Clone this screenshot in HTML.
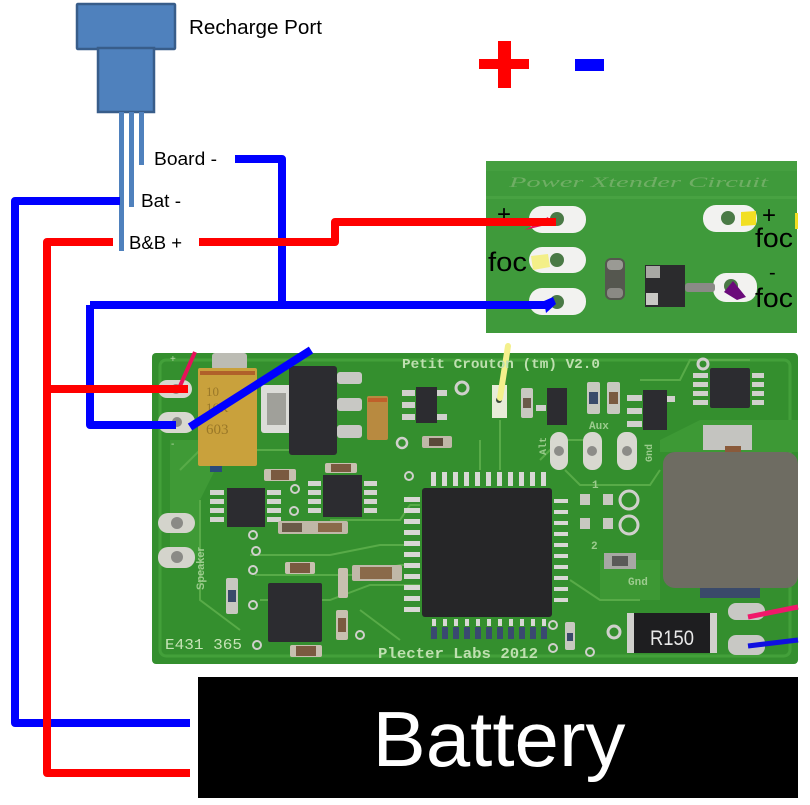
<!DOCTYPE html>
<html><head><meta charset="utf-8"><style>
html,body{margin:0;padding:0;background:#fff;}
svg{display:block;}
</style></head><body>
<svg width="810" height="805" viewBox="0 0 810 805" xmlns="http://www.w3.org/2000/svg">
<rect width="810" height="805" fill="#fff"/>

<!-- Recharge port -->
<rect x="77" y="4" width="98" height="45" fill="#4F81BD" stroke="#385D8A" stroke-width="2.5" rx="1"/>
<rect x="98" y="48" width="56" height="64" fill="#4F81BD" stroke="#385D8A" stroke-width="2.5"/>
<rect x="119" y="112" width="5" height="139" fill="#4F81BD"/>
<rect x="129" y="112" width="5" height="95" fill="#4F81BD"/>
<rect x="139" y="112" width="5" height="53" fill="#4F81BD"/>
<text x="189" y="34" font-family="Liberation Sans, sans-serif" font-size="20" textLength="133" lengthAdjust="spacingAndGlyphs">Recharge Port</text>
<text x="154" y="165" font-family="Liberation Sans, sans-serif" font-size="18" textLength="63" lengthAdjust="spacingAndGlyphs">Board -</text>
<text x="141" y="207" font-family="Liberation Sans, sans-serif" font-size="18" textLength="40" lengthAdjust="spacingAndGlyphs">Bat -</text>
<text x="129" y="249" font-family="Liberation Sans, sans-serif" font-size="18" textLength="53" lengthAdjust="spacingAndGlyphs">B&amp;B +</text>

<!-- plus / minus legend -->
<rect x="498" y="41" width="13" height="47" fill="#f00"/>
<rect x="479" y="59" width="50" height="10" fill="#f00"/>
<rect x="575" y="59" width="29" height="12" fill="#00f"/>

<!-- Power Xtender PCB -->
<rect x="486" y="161" width="311" height="172" fill="#3f9a3b"/>
<rect x="486" y="161" width="311" height="10" fill="#4aa444" opacity="0.6"/>
<rect x="486" y="196" width="311" height="3" fill="#52aa4a" opacity="0.5"/>
<text x="509" y="187" font-family="Liberation Serif, serif" font-size="15" font-style="italic" fill="#6fae64" textLength="259" lengthAdjust="spacingAndGlyphs">Power Xtender Circuit</text>
<rect x="529" y="206" width="57" height="27" rx="13" fill="#f2f2f0"/>
<circle cx="557" cy="219" r="7" fill="#4a7a46"/>
<rect x="529" y="247" width="57" height="26" rx="13" fill="#f2f2f0"/>
<circle cx="557" cy="260" r="7" fill="#4a7a46"/>
<rect x="529" y="288" width="57" height="27" rx="13" fill="#f2f2f0"/>
<circle cx="557" cy="302" r="7" fill="#4a7a46"/>
<rect x="703" y="205" width="54" height="27" rx="13" fill="#f2f2f0"/>
<circle cx="728" cy="218" r="7" fill="#4a7a46"/>
<rect x="713" y="273" width="44" height="29" rx="13" fill="#f2f2f0"/>
<circle cx="731" cy="286" r="7" fill="#4a7a46"/>
<!-- xtender components -->
<rect x="605" y="258" width="20" height="42" rx="6" fill="#55574f"/>
<rect x="607" y="260" width="16" height="10" rx="4" fill="#9a9a94"/>
<rect x="607" y="288" width="16" height="10" rx="4" fill="#8a8a84"/>
<rect x="645" y="265" width="40" height="42" fill="#2b2b2d"/>
<rect x="646" y="266" width="14" height="12" fill="#a8a8a4"/>
<rect x="646" y="293" width="12" height="12" fill="#c8c8c4"/>
<rect x="685" y="283" width="30" height="9" rx="3" fill="#8a8a86"/>
<!-- markers -->
<polygon points="531,256 548,254 550,267 533,270" fill="#f3ef88"/>
<polygon points="741,212 756,211 756,225 741,226" fill="#f2df22"/>
<rect x="795" y="213" width="3" height="16" fill="#f2df22"/>
<polygon points="724,292 733,281 746,297 737,300" fill="#6a0a7a"/>
<polygon points="525,230 548,217 550,224" fill="#e8105a"/>
<text x="497" y="222" font-family="Liberation Sans, sans-serif" font-size="24">+</text>
<text x="488" y="271" font-family="Liberation Sans, sans-serif" font-size="27" textLength="39" lengthAdjust="spacingAndGlyphs">foc</text>
<text x="762" y="223" font-family="Liberation Sans, sans-serif" font-size="24">+</text>
<text x="755" y="247" font-family="Liberation Sans, sans-serif" font-size="27" textLength="38" lengthAdjust="spacingAndGlyphs">foc</text>
<text x="769" y="279" font-family="Liberation Sans, sans-serif" font-size="20">-</text>
<text x="755" y="307" font-family="Liberation Sans, sans-serif" font-size="27" textLength="38" lengthAdjust="spacingAndGlyphs">foc</text>

<!-- Main PCB -->
<rect x="152" y="353" width="646" height="311" rx="4" fill="#348f2e"/>
<rect x="160" y="360" width="630" height="296" rx="6" fill="none" stroke="#43a03a" stroke-width="3"/>
<polygon points="170,440 215,440 215,470 200,500 200,560 170,560" fill="#3f9a36"/>
<polygon points="660,440 700,420 798,420 798,452 660,452" fill="#3d9935"/>
<polygon points="600,560 660,560 660,600 600,600" fill="#3d9834"/>
<g fill="none" stroke="#58ab48" stroke-width="2">
<polyline points="180,470 200,450 290,450"/>
<polyline points="200,500 200,600 240,630"/>
<polyline points="250,555 330,555 380,545 420,545"/>
<polyline points="255,575 360,575 400,565 420,565"/>
<polyline points="260,600 330,600 370,585 420,585"/>
<polyline points="330,520 400,520 410,505 420,505"/>
<polyline points="360,610 380,625 400,640"/>
<polyline points="565,470 580,485 650,485 660,470"/>
<polyline points="570,580 600,600 640,600"/>
<polyline points="480,440 480,470"/>
<polyline points="500,420 500,470"/>
<polyline points="640,380 680,380 690,360 750,360"/>
<polyline points="590,440 560,440 540,460"/>
</g>

<!-- top-left pads -->
<rect x="158" y="380" width="34" height="18" rx="9" fill="#d8d8d0"/>
<circle cx="176" cy="389" r="5" fill="#8c8c88"/>
<rect x="158" y="412" width="37" height="21" rx="10" fill="#d8d8d0"/>
<circle cx="177" cy="422" r="5" fill="#8c8c88"/>
<text x="170" y="362" font-family="Liberation Sans, sans-serif" font-size="10" fill="#b8d8a8">+</text>
<text x="171" y="447" font-family="Liberation Sans, sans-serif" font-size="10" fill="#b8d8a8">-</text>
<rect x="158" y="513" width="37" height="20" rx="10" fill="#d4d4cc"/>
<circle cx="177" cy="523" r="6" fill="#8a8a86"/>
<rect x="158" y="547" width="37" height="21" rx="10" fill="#d4d4cc"/>
<circle cx="177" cy="557" r="6" fill="#8a8a86"/>
<text x="0" y="0" transform="translate(204,590) rotate(-90)" font-family="Liberation Sans, sans-serif" font-size="11" font-weight="bold" fill="#9ccc8e">Speaker</text>

<!-- tantalum -->
<rect x="212" y="353" width="35" height="17" rx="3" fill="#bcbcb4"/>
<rect x="198" y="368" width="59" height="98" rx="2" fill="#c9a13c"/>
<rect x="200" y="371" width="55" height="4" fill="#b0602a"/>
<text x="206" y="396" font-family="Liberation Serif, serif" font-size="13" fill="#9a7828">10</text>
<text x="206" y="412" font-family="Liberation Serif, serif" font-size="13" fill="#9a7828">16K</text>
<text x="206" y="434" font-family="Liberation Serif, serif" font-size="15" fill="#9a7828">603</text>
<rect x="210" y="466" width="12" height="6" fill="#2a4a7a"/>
<rect x="261" y="385" width="31" height="48" rx="3" fill="#dcdcd8"/>
<rect x="267" y="393" width="19" height="32" fill="#a0a09a"/>
<rect x="289" y="366" width="48" height="89" rx="3" fill="#2c2c30"/>
<rect x="337" y="372" width="25" height="12" rx="3" fill="#c8c8c4"/>
<rect x="337" y="398" width="25" height="13" rx="3" fill="#c8c8c4"/>
<rect x="337" y="425" width="25" height="13" rx="3" fill="#c8c8c4"/>
<rect x="367" y="396" width="21" height="44" rx="2" fill="#b88a40"/>
<rect x="368" y="398" width="19" height="4" fill="#c0602a"/>
<rect x="416" y="387" width="21" height="36" fill="#2c2c30"/>
<rect x="402" y="390" width="13" height="6" fill="#d0d0cc"/>
<rect x="402" y="402" width="13" height="6" fill="#d0d0cc"/>
<rect x="402" y="414" width="13" height="6" fill="#d0d0cc"/>
<rect x="437" y="390" width="10" height="6" fill="#d0d0cc"/>
<rect x="437" y="414" width="10" height="6" fill="#d0d0cc"/>
<circle cx="462" cy="388" r="6" fill="none" stroke="#d0d0cc" stroke-width="3"/>
<rect x="422" y="436" width="30" height="12" rx="2" fill="#c0b8a8"/>
<rect x="429" y="438" width="14" height="8" fill="#5a4a3a"/>
<circle cx="402" cy="443" r="5" fill="none" stroke="#d0d0cc" stroke-width="2.5"/>
<circle cx="409" cy="476" r="4" fill="none" stroke="#d0d0cc" stroke-width="2"/>
<rect x="227" y="488" width="38" height="39" fill="#2c2c30"/>
<g fill="#d4d4d0">
<rect x="210" y="490" width="14" height="5"/><rect x="210" y="499" width="14" height="5"/><rect x="210" y="508" width="14" height="5"/><rect x="210" y="517" width="14" height="5"/>
<rect x="267" y="490" width="14" height="5"/><rect x="267" y="499" width="14" height="5"/><rect x="267" y="508" width="14" height="5"/><rect x="267" y="517" width="14" height="5"/>
</g>
<rect x="264" y="469" width="32" height="12" rx="2" fill="#c8c0b0"/><rect x="271" y="470" width="18" height="10" fill="#7a5a40"/>
<rect x="323" y="475" width="39" height="42" fill="#2c2c30"/>
<g fill="#d4d4d0">
<rect x="308" y="481" width="13" height="5"/><rect x="308" y="490" width="13" height="5"/><rect x="308" y="499" width="13" height="5"/><rect x="308" y="508" width="13" height="5"/>
<rect x="364" y="481" width="13" height="5"/><rect x="364" y="490" width="13" height="5"/><rect x="364" y="499" width="13" height="5"/><rect x="364" y="508" width="13" height="5"/>
</g>
<rect x="325" y="463" width="32" height="10" rx="2" fill="#c8c0b0"/><rect x="331" y="464" width="20" height="8" fill="#7a5a40"/>
<circle cx="295" cy="489" r="4" fill="none" stroke="#d0d0cc" stroke-width="2"/>
<circle cx="294" cy="511" r="4" fill="none" stroke="#d0d0cc" stroke-width="2"/>
<rect x="278" y="521" width="70" height="13" rx="2" fill="#c0b8a8"/>
<rect x="282" y="523" width="20" height="9" fill="#6a5a48"/><rect x="318" y="523" width="24" height="9" fill="#8a6a4a"/>
<circle cx="253" cy="535" r="4" fill="none" stroke="#d0d0cc" stroke-width="2"/>
<circle cx="256" cy="551" r="4" fill="none" stroke="#d0d0cc" stroke-width="2"/>
<circle cx="253" cy="570" r="4" fill="none" stroke="#d0d0cc" stroke-width="2"/>
<rect x="268" y="583" width="54" height="59" rx="2" fill="#2c2c30"/>
<rect x="285" y="562" width="30" height="12" rx="2" fill="#c8c0b0"/><rect x="290" y="563" width="20" height="10" fill="#7a5a40"/>
<rect x="290" y="645" width="32" height="12" rx="2" fill="#c8c0b0"/><rect x="296" y="646" width="20" height="10" fill="#7a5a40"/>
<rect x="226" y="578" width="12" height="36" rx="2" fill="#c8c8c0"/><rect x="228" y="590" width="8" height="12" fill="#3a4a6a"/>
<circle cx="253" cy="605" r="4" fill="none" stroke="#d0d0cc" stroke-width="2"/>
<circle cx="257" cy="645" r="4" fill="none" stroke="#d0d0cc" stroke-width="2"/>
<rect x="338" y="568" width="10" height="30" rx="2" fill="#c8c0b0"/>
<rect x="336" y="610" width="12" height="30" rx="2" fill="#c8c0b0"/><rect x="338" y="618" width="8" height="14" fill="#7a5a40"/>
<rect x="352" y="565" width="50" height="16" rx="2" fill="#c0b8a8"/><rect x="360" y="567" width="32" height="12" fill="#8a6a4a"/>
<circle cx="360" cy="635" r="4" fill="none" stroke="#d0d0cc" stroke-width="2"/>

<!-- QFP -->
<rect x="422" y="488" width="130" height="129" rx="3" fill="#262628"/>
<g fill="#d8d8d4">
<rect x="431" y="472" width="5" height="14"/><rect x="442" y="472" width="5" height="14"/><rect x="453" y="472" width="5" height="14"/><rect x="464" y="472" width="5" height="14"/><rect x="475" y="472" width="5" height="14"/><rect x="486" y="472" width="5" height="14"/><rect x="497" y="472" width="5" height="14"/><rect x="508" y="472" width="5" height="14"/><rect x="519" y="472" width="5" height="14"/><rect x="530" y="472" width="5" height="14"/><rect x="541" y="472" width="5" height="14"/>
<rect x="404" y="497" width="16" height="5"/><rect x="404" y="508" width="16" height="5"/><rect x="404" y="519" width="16" height="5"/><rect x="404" y="530" width="16" height="5"/><rect x="404" y="541" width="16" height="5"/><rect x="404" y="552" width="16" height="5"/><rect x="404" y="563" width="16" height="5"/><rect x="404" y="574" width="16" height="5"/><rect x="404" y="585" width="16" height="5"/><rect x="404" y="596" width="16" height="5"/><rect x="404" y="607" width="16" height="5"/>
<rect x="554" y="499" width="14" height="4"/><rect x="554" y="510" width="14" height="4"/><rect x="554" y="521" width="14" height="4"/><rect x="554" y="532" width="14" height="4"/><rect x="554" y="543" width="14" height="4"/><rect x="554" y="554" width="14" height="4"/><rect x="554" y="565" width="14" height="4"/><rect x="554" y="576" width="14" height="4"/><rect x="554" y="587" width="14" height="4"/><rect x="554" y="598" width="14" height="4"/>
<rect x="432" y="619" width="4" height="7"/><rect x="443" y="619" width="4" height="7"/><rect x="454" y="619" width="4" height="7"/><rect x="465" y="619" width="4" height="7"/><rect x="476" y="619" width="4" height="7"/><rect x="487" y="619" width="4" height="7"/><rect x="498" y="619" width="4" height="7"/><rect x="509" y="619" width="4" height="7"/><rect x="520" y="619" width="4" height="7"/><rect x="531" y="619" width="4" height="7"/><rect x="542" y="619" width="4" height="7"/>
</g>
<g fill="#3a4a70">
<rect x="431" y="627" width="6" height="12"/><rect x="442" y="627" width="6" height="12"/><rect x="453" y="627" width="6" height="12"/><rect x="464" y="627" width="6" height="12"/><rect x="475" y="627" width="6" height="12"/><rect x="486" y="627" width="6" height="12"/><rect x="497" y="627" width="6" height="12"/><rect x="508" y="627" width="6" height="12"/><rect x="519" y="627" width="6" height="12"/><rect x="530" y="627" width="6" height="12"/><rect x="541" y="627" width="6" height="12"/>
</g>
<circle cx="553" cy="625" r="4" fill="none" stroke="#d0d0cc" stroke-width="2"/>
<circle cx="553" cy="648" r="4" fill="none" stroke="#d0d0cc" stroke-width="2"/>
<rect x="565" y="622" width="10" height="28" rx="2" fill="#c8c8c0"/><rect x="567" y="633" width="6" height="8" fill="#3a4a6a"/>
<circle cx="590" cy="652" r="4" fill="none" stroke="#d0d0cc" stroke-width="2"/>

<rect x="492" y="385" width="15" height="33" fill="#e8ecd8"/>
<circle cx="499" cy="400" r="3" fill="#3a4a3a"/>
<line x1="508" y1="346" x2="500" y2="398" stroke="#f4f08c" stroke-width="6" stroke-linecap="round"/>

<rect x="521" y="388" width="12" height="30" rx="2" fill="#c8c8c0"/><rect x="523" y="398" width="8" height="10" fill="#6a5a48"/>
<rect x="547" y="388" width="20" height="37" fill="#2c2c30"/>
<rect x="536" y="405" width="10" height="6" fill="#d0d0cc"/>
<rect x="587" y="382" width="13" height="32" rx="2" fill="#c8c8c0"/><rect x="589" y="392" width="9" height="12" fill="#3a4a6a"/>
<rect x="607" y="382" width="13" height="32" rx="2" fill="#c8c8c0"/><rect x="609" y="392" width="9" height="12" fill="#7a5a40"/>
<rect x="643" y="390" width="24" height="40" fill="#2c2c30"/>
<rect x="627" y="395" width="15" height="6" fill="#d0d0cc"/><rect x="627" y="408" width="15" height="6" fill="#d0d0cc"/><rect x="627" y="421" width="15" height="6" fill="#d0d0cc"/>
<rect x="667" y="396" width="8" height="6" fill="#d0d0cc"/>
<text x="589" y="429" font-family="Liberation Mono, monospace" font-size="11" font-weight="bold" fill="#9ccc8e">Aux</text>
<circle cx="703" cy="364" r="5" fill="none" stroke="#d0d0cc" stroke-width="3"/>
<rect x="710" y="368" width="40" height="40" rx="2" fill="#2c2c30"/>
<g fill="#d0d0cc">
<rect x="693" y="373" width="15" height="5"/><rect x="693" y="382" width="15" height="5"/><rect x="693" y="391" width="15" height="5"/><rect x="693" y="400" width="15" height="5"/>
<rect x="752" y="373" width="12" height="5"/><rect x="752" y="382" width="12" height="5"/><rect x="752" y="391" width="12" height="5"/><rect x="752" y="400" width="12" height="5"/>
</g>
<rect x="550" y="432" width="18" height="38" rx="9" fill="#d8d8d0"/><circle cx="559" cy="451" r="5" fill="#8c8c88"/>
<rect x="583" y="432" width="19" height="38" rx="9" fill="#d8d8d0"/><circle cx="592" cy="451" r="5" fill="#8c8c88"/>
<rect x="617" y="432" width="20" height="38" rx="9" fill="#d8d8d0"/><circle cx="627" cy="451" r="5" fill="#8c8c88"/>
<text x="0" y="0" transform="translate(546,455) rotate(-90)" font-family="Liberation Mono, monospace" font-size="10" font-weight="bold" fill="#9ccc8e">Alt</text>
<text x="0" y="0" transform="translate(652,462) rotate(-90)" font-family="Liberation Mono, monospace" font-size="10" font-weight="bold" fill="#9ccc8e">Gnd</text>
<text x="592" y="488" font-family="Liberation Mono, monospace" font-size="11" font-weight="bold" fill="#9ccc8e">1</text>
<text x="591" y="549" font-family="Liberation Mono, monospace" font-size="11" font-weight="bold" fill="#9ccc8e">2</text>
<text x="628" y="585" font-family="Liberation Mono, monospace" font-size="11" font-weight="bold" fill="#9ccc8e">Gnd</text>
<rect x="580" y="494" width="10" height="11" fill="#c8c8c0"/><rect x="603" y="494" width="10" height="11" fill="#c8c8c0"/>
<rect x="580" y="518" width="10" height="11" fill="#c8c8c0"/><rect x="603" y="518" width="10" height="11" fill="#c8c8c0"/>
<circle cx="629" cy="500" r="9" fill="none" stroke="#d0d0cc" stroke-width="3"/>
<circle cx="629" cy="525" r="9" fill="none" stroke="#d0d0cc" stroke-width="3"/>
<rect x="604" y="553" width="32" height="16" fill="#a8a8a4"/><rect x="612" y="556" width="16" height="10" fill="#5a5a58"/>

<rect x="703" y="425" width="49" height="25" fill="#c4c4c0"/>
<rect x="725" y="446" width="16" height="7" fill="#8a5a3a"/>
<rect x="663" y="452" width="135" height="136" rx="12" fill="#6e6c62"/>
<rect x="700" y="588" width="60" height="10" fill="#3a4a6a"/>
<circle cx="614" cy="632" r="6" fill="none" stroke="#d0d0cc" stroke-width="3"/>
<rect x="627" y="613" width="90" height="40" fill="#1e1e20"/>
<rect x="627" y="613" width="7" height="40" fill="#d0d0cc"/>
<rect x="710" y="613" width="7" height="40" fill="#d0d0cc"/>
<text x="672" y="645" text-anchor="middle" font-family="Liberation Sans, sans-serif" font-size="21" fill="#e8e8e8" textLength="44" lengthAdjust="spacingAndGlyphs">R150</text>
<rect x="728" y="603" width="37" height="17" rx="8" fill="#c8c8c4"/>
<rect x="728" y="635" width="37" height="20" rx="8" fill="#c8c8c4"/>
<line x1="748" y1="617" x2="798" y2="607" stroke="#f0186a" stroke-width="5"/>
<line x1="748" y1="646" x2="798" y2="640" stroke="#1010e0" stroke-width="5"/>

<text x="402" y="368" font-family="Liberation Mono, monospace" font-size="14" font-weight="bold" fill="#bfe0b0" textLength="198" lengthAdjust="spacingAndGlyphs">Petit Crouton (tm) V2.0</text>
<text x="378" y="658" font-family="Liberation Mono, monospace" font-size="15" font-weight="bold" fill="#bfe0b0" textLength="160" lengthAdjust="spacingAndGlyphs">Plecter Labs 2012</text>
<text x="165" y="649" font-family="Liberation Mono, monospace" font-size="15" fill="#c8e4b8" textLength="77" lengthAdjust="spacingAndGlyphs">E431 365</text>

<line x1="180" y1="386" x2="195" y2="352" stroke="#e8105a" stroke-width="4"/>
<line x1="190" y1="427" x2="311" y2="350" stroke="#0000ff" stroke-width="8"/>

<g fill="none" stroke-width="8" stroke-linejoin="round">
<polyline points="235,159 282,159 282,305" stroke="#0000ff"/>
<polyline points="90,305 548,305" stroke="#0000ff"/>
<polyline points="90,305 90,425 176,425" stroke="#0000ff"/>
<polyline points="120,201 15,201 15,723 190,723" stroke="#0000ff"/>
<polyline points="113,242 47,242 47,773 190,773" stroke="#ff0000"/>
<polyline points="47,389 188,389" stroke="#ff0000"/>
<polyline points="199,242 335,242 335,222 556,222" stroke="#ff0000"/>
</g>
<polygon points="544,301 553,297 556,304 546,313" fill="#0000ff"/>

<rect x="198" y="677" width="600" height="121" fill="#000"/>
<text x="499" y="766" text-anchor="middle" font-family="Liberation Sans, sans-serif" font-size="78" fill="#fff" textLength="253" lengthAdjust="spacingAndGlyphs">Battery</text>
</svg>
</body></html>
